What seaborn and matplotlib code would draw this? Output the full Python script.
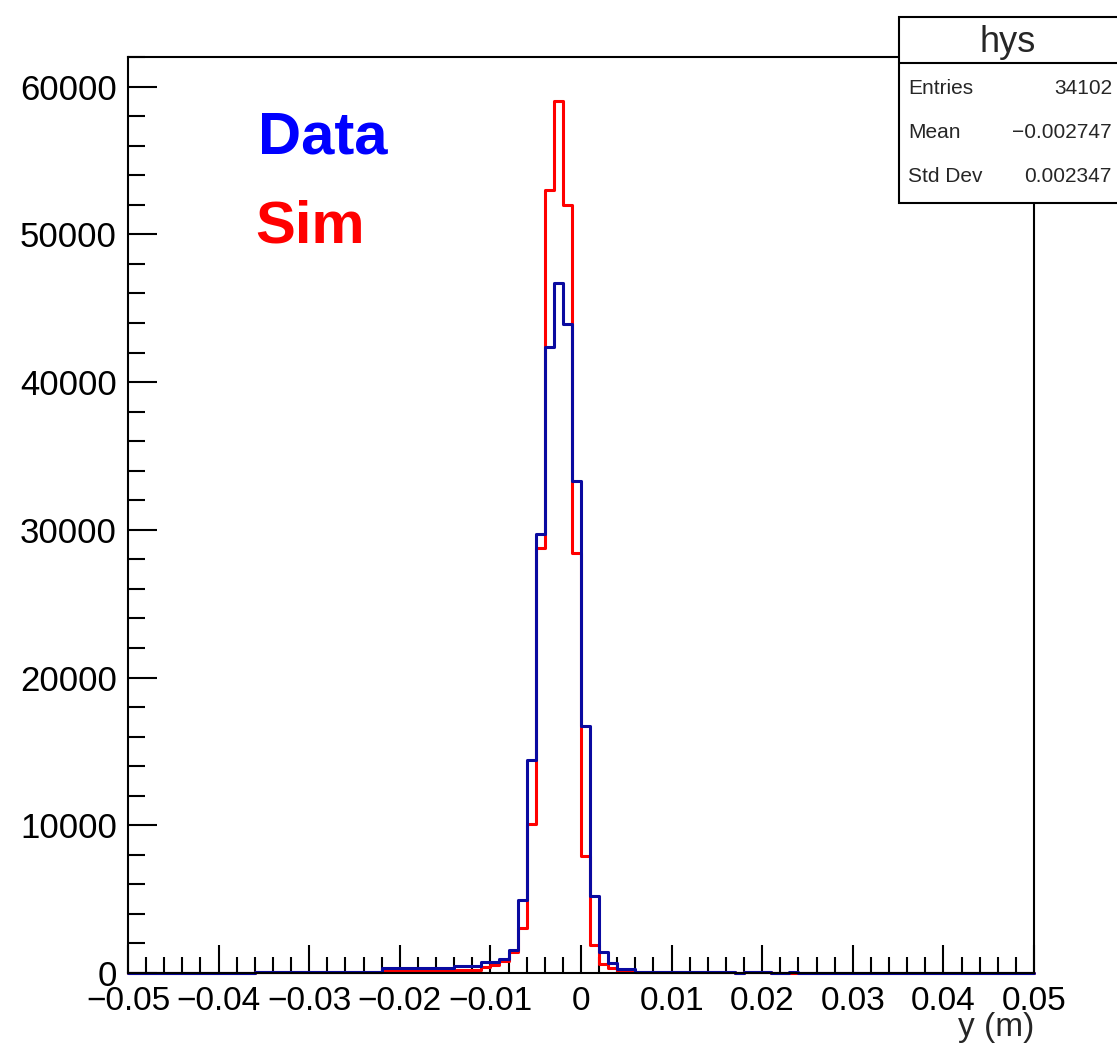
import numpy as np
import pandas as pd
import matplotlib
matplotlib.use("Agg")
import matplotlib.pyplot as plt
from matplotlib.patches import Rectangle
from matplotlib.lines import Line2D
import seaborn as sns

# ---------------- data ----------------
bin_edges_lo = -0.05
bin_edges_hi = 0.05
bin_width = 0.001
n_bins = 100

sim_counts = [
    0, 0, 0, 0, 0, 0, 0, 0, 0, 0,
    0, 0, 0, 0, 60, 60, 60, 60, 60, 60,
    60, 60, 60, 60, 60, 60, 60, 60, 130, 130,
    130, 130, 130, 130, 130, 130, 180, 180, 180, 420,
    550, 790, 1400, 3030, 10100, 28800, 53000, 59000, 52000, 28400,
    7900, 1900, 630, 340, 150, 150, 60, 60, 60, 60,
    60, 60, 60, 60, 60, 60, 60, 0, 40, 40,
    40, 0, 0, 0, 0, 0, 0, 0, 0, 0,
    0, 0, 0, 0, 0, 0, 0, 0, 0, 0,
    0, 0, 0, 0, 0, 0, 0, 0, 0, 0,
]

data_counts = [
    0, 0, 0, 0, 0, 0, 0, 0, 0, 0,
    0, 0, 0, 0, 80, 80, 80, 80, 80, 80,
    80, 80, 80, 80, 80, 80, 80, 80, 330, 330,
    330, 330, 330, 330, 330, 330, 500, 500, 500, 750,
    750, 950, 1580, 4950, 14400, 29700, 42400, 46700, 43900, 33300,
    16700, 5200, 1450, 680, 250, 250, 100, 100, 100, 100,
    100, 100, 100, 100, 100, 100, 100, 0, 80, 80,
    80, 0, 0, 60, 0, 0, 0, 0, 0, 0,
    0, 0, 0, 0, 0, 0, 0, 0, 0, 0,
    0, 0, 0, 0, 0, 0, 0, 0, 0, 0,
]

x_tick_values = [-0.05, -0.04, -0.03, -0.02, -0.01, 0.0, 0.01, 0.02, 0.03, 0.04, 0.05]
x_tick_labels = ["\u22120.05", "\u22120.04", "\u22120.03", "\u22120.02", "\u22120.01",
                 "0", "0.01", "0.02", "0.03", "0.04", "0.05"]
y_tick_values = [0, 10000, 20000, 30000, 40000, 50000, 60000]
y_tick_labels = ["0", "10000", "20000", "30000", "40000", "50000", "60000"]

stat_names = ["Entries", "Mean", "Std Dev"]
stat_values = ["34102", "\u22120.002747", "0.002347"]
hist_name = "hys"
x_label = "y (m)"

# ---------------- style ----------------
sns.set_theme(style="white")
plt.rcParams["font.family"] = ["Liberation Sans", "DejaVu Sans"]

centers = bin_edges_lo + bin_width * (np.arange(n_bins) + 0.5)
df_sim = pd.DataFrame({"y": centers, "w": np.asarray(sim_counts, dtype=float)})
df_data = pd.DataFrame({"y": centers, "w": np.asarray(data_counts, dtype=float)})

fig = plt.figure(figsize=(11.17, 10.55), dpi=100)
ax = fig.add_axes([0.1146, 0.0777, 0.8111, 0.8682])

sns.histplot(data=df_sim, x="y", weights="w", binwidth=bin_width,
             binrange=(bin_edges_lo, bin_edges_hi), element="step", fill=False,
             color="#ff0000", linewidth=2.2, ax=ax)
sns.histplot(data=df_data, x="y", weights="w", binwidth=bin_width,
             binrange=(bin_edges_lo, bin_edges_hi), element="step", fill=False,
             color="#0a0aa0", linewidth=2.2, ax=ax)
for art in list(ax.patches) + list(ax.lines):
    art.set_clip_on(False)

ax.set_xlim(-0.05, 0.05)
ax.set_ylim(0, 62000)
ax.set_xlabel("")
ax.set_ylabel("")

ax.set_xticks(x_tick_values)
ax.set_xticklabels(x_tick_labels)
ax.set_xticks(np.arange(-0.05, 0.0501, 0.002), minor=True)
ax.set_yticks(y_tick_values)
ax.set_yticklabels(y_tick_labels)
ax.set_yticks(np.arange(0, 62001, 2000), minor=True)

ax.tick_params(axis="both", which="both", direction="in", colors="black",
               width=1.5, labelsize=24, top=False, right=False)
ax.tick_params(axis="x", which="major", length=20.5, pad=9)
ax.tick_params(axis="x", which="minor", length=11.5)
ax.tick_params(axis="y", which="major", length=21, pad=8, labelsize=25)
ax.tick_params(axis="y", which="minor", length=12)
ax.tick_params(axis="x", which="both", bottom=True)
ax.tick_params(axis="y", which="both", left=True)

for sp in ax.spines.values():
    sp.set_color("black")
    sp.set_linewidth(1.5)

ax.text(0.1435, 0.895, "Data", transform=ax.transAxes, color="#0000ff",
        fontsize=43, fontweight="bold", ha="left", va="baseline")
ax.text(0.141, 0.798, "Sim", transform=ax.transAxes, color="#ff0000",
        fontsize=43, fontweight="bold", ha="left", va="baseline")

fig.text(0.9257, 0.026, x_label, ha="right", va="center", fontsize=24)

# stats box
box = Rectangle((0.8045, 0.808), 0.25, 0.176, transform=fig.transFigure,
                facecolor="white", edgecolor="black", linewidth=1.5, zorder=10)
fig.add_artist(box)
fig.add_artist(Line2D([0.8045, 1.0], [0.9405, 0.9405], transform=fig.transFigure,
                      color="black", linewidth=1.5, zorder=11))
fig.text(0.902, 0.960, hist_name, ha="center", va="center", fontsize=26, zorder=12)
row_y = [0.916, 0.874, 0.833]
for name, val, yy in zip(stat_names, stat_values, row_y):
    fig.text(0.813, yy, name, ha="left", va="center", fontsize=15, zorder=12)
    fig.text(0.9955, yy, val, ha="right", va="center", fontsize=15, zorder=12)

fig.savefig("out.png", dpi=100, facecolor="white")
